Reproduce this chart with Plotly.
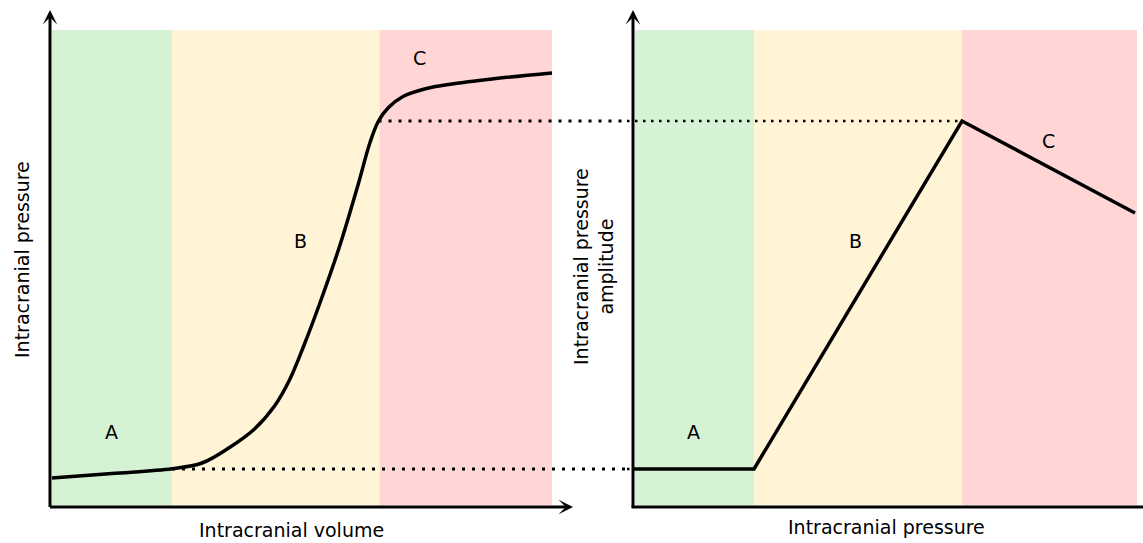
import plotly.graph_objects as go

# ---------------- data (arbitrary units) ----------------
zone_names = ["A", "B", "C"]
zone_colors = ["#d6f2d5", "#fff5d6", "#ffd5d5"]
zone_top = 95.0

# left panel: intracranial volume vs intracranial pressure
volume_edges = [0, 24, 65.5, 100]
volume = [0, 12, 24, 30, 35.5, 40.5, 44.5, 47.5, 50.5, 53.8, 57.6, 61.2,
          63.6, 65.3, 67.3, 70.2, 74.5, 80, 88, 100]
icp = [5.4, 6.3, 7.25, 8.4, 11.5, 15.2, 19.8, 25, 32.2, 41, 52, 64,
       72.5, 76.8, 79.5, 81.7, 83.2, 84.2, 85.2, 86.4]

# right panel: intracranial pressure vs pulse amplitude
pressure_edges = [0, 23.8, 65.4, 100.4]
pressure = [-0.4, 23.8, 65.4, 100]
amplitude = [7.2, 7.2, 76.8, 58.4]

# reference levels joining both panels
low_level = 7.2
high_level = 76.8
low_start_volume = 24
high_start_volume = 65.3
high_end_pressure = 65.4

# zone label positions
left_label_x = [11.8, 49.6, 73.4]
left_label_y = [14.6, 52.8, 89.4]
right_label_x = [11.6, 44, 82.6]
right_label_y = [14.6, 52.8, 72.8]

# ---------------- layout geometry ----------------
W, H = 1143, 543
split = 627 / W
XL = [-10.4, 115]
XR = [-1.6, 101.6]
YR = [-7.6, 101]
FONT = "DejaVu Sans"

fig = go.Figure()

# dotted reference lines
fig.add_trace(go.Scatter(x=[low_start_volume, XL[1]], y=[low_level, low_level],
                         mode="lines", line=dict(color="black", width=3, dash="3px,7px"),
                         xaxis="x", yaxis="y", hoverinfo="skip"))
fig.add_trace(go.Scatter(x=[high_start_volume, XL[1]], y=[high_level, high_level],
                         mode="lines", line=dict(color="black", width=3, dash="3px,7px"),
                         xaxis="x", yaxis="y", hoverinfo="skip"))
fig.add_trace(go.Scatter(x=[XR[0], high_end_pressure], y=[high_level, high_level],
                         mode="lines", line=dict(color="black", width=2.5, dash="2.5px,5.5px"),
                         xaxis="x2", yaxis="y2", hoverinfo="skip"))
fig.add_trace(go.Scatter(x=[XR[0], 0], y=[low_level, low_level],
                         mode="lines", line=dict(color="black", width=2.5, dash="2.5px,5.5px"),
                         xaxis="x2", yaxis="y2", hoverinfo="skip"))

# curves
fig.add_trace(go.Scatter(x=volume, y=icp, mode="lines",
                         line=dict(color="black", width=3.5, shape="spline", smoothing=1),
                         xaxis="x", yaxis="y", hoverinfo="skip"))
fig.add_trace(go.Scatter(x=pressure, y=amplitude, mode="lines",
                         line=dict(color="black", width=3.5),
                         xaxis="x2", yaxis="y2", hoverinfo="skip"))

shapes = []
for i in range(3):
    shapes.append(dict(type="rect", xref="x", yref="y", layer="below", line=dict(width=0),
                       x0=volume_edges[i], x1=volume_edges[i + 1], y0=0, y1=zone_top,
                       fillcolor=zone_colors[i]))
    shapes.append(dict(type="rect", xref="x2", yref="y2", layer="below", line=dict(width=0),
                       x0=pressure_edges[i], x1=pressure_edges[i + 1], y0=0, y1=zone_top,
                       fillcolor=zone_colors[i]))
# right x axis line (arrow tip falls outside the picture)
shapes.append(dict(type="line", xref="x2", yref="y2", x0=-0.7, x1=XR[1], y0=-0.4, y1=-0.4,
                   line=dict(color="black", width=3)))

ann = []
arrow = dict(text="", showarrow=True, arrowhead=3, arrowsize=0.8, arrowwidth=3,
             arrowcolor="black", standoff=0)
ann.append(dict(arrow, xref="x", yref="y", axref="x", ayref="y", x=-0.4, y=99, ax=-0.4, ay=-0.7))
ann.append(dict(arrow, xref="x", yref="y", axref="x", ayref="y", x=104.2, y=-0.4, ax=-0.7, ay=-0.4))
ann.append(dict(arrow, xref="x2", yref="y2", axref="x2", ayref="y2", x=-0.4, y=99, ax=-0.4, ay=-0.7))

lf = dict(family=FONT, size=19, color="black")
for i in range(3):
    ann.append(dict(text=zone_names[i], xref="x", yref="y", x=left_label_x[i], y=left_label_y[i],
                    xanchor="center", yanchor="middle", showarrow=False, font=lf))
    ann.append(dict(text=zone_names[i], xref="x2", yref="y2", x=right_label_x[i], y=right_label_y[i],
                    xanchor="center", yanchor="middle", showarrow=False, font=lf))

tf = dict(family=FONT, size=19, color="black")
center = dict(xanchor="center", yanchor="middle", showarrow=False, font=tf,
              xref="paper", yref="paper")
ann.append(dict(center, text="Intracranial volume", x=291 / W, y=1 - 530 / H))
ann.append(dict(center, text="Intracranial pressure", x=886 / W, y=1 - 527 / H))
ann.append(dict(center, text="Intracranial pressure", x=22 / W, y=1 - 260 / H, textangle=-90))
ann.append(dict(center, text="Intracranial pressure<br>amplitude", x=593 / W, y=1 - 267 / H,
                textangle=-90))

ax_common = dict(visible=False, showgrid=False, zeroline=False, fixedrange=True)
fig.update_layout(
    width=W, height=H, margin=dict(l=0, r=0, t=0, b=0),
    paper_bgcolor="white", plot_bgcolor="white", showlegend=False,
    xaxis=dict(ax_common, domain=[0, split], range=XL),
    yaxis=dict(ax_common, domain=[0, 1], range=YR),
    xaxis2=dict(ax_common, domain=[split, 1], range=XR, anchor="y2"),
    yaxis2=dict(ax_common, domain=[0, 1], range=YR, anchor="x2"),
    shapes=shapes, annotations=ann,
    font=dict(family=FONT),
)

fig.write_html("out.html")
